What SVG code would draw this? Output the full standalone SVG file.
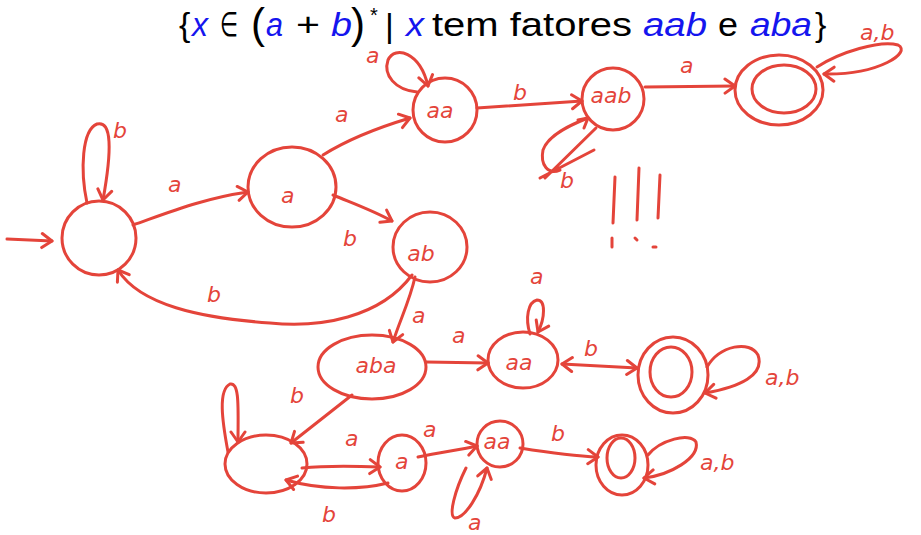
<svg xmlns="http://www.w3.org/2000/svg" width="921" height="535" viewBox="0 0 921 535">
<defs>
<style>
.s{fill:none;stroke:#e4443a;stroke-width:3;stroke-linecap:round;stroke-linejoin:round}
.a{marker-end:url(#ah)}
.l{fill:#e4443a;font-family:"DejaVu Sans",sans-serif;font-style:oblique;font-size:22px}
.t text{font-family:"Liberation Sans","DejaVu Sans",sans-serif;font-size:34px;fill:#000}
.t text.v{fill:#1515ee;font-style:italic}
</style>
<marker id="ah" viewBox="-12 -9 14 18" markerWidth="14" markerHeight="18" refX="0" refY="0" orient="auto-start-reverse" markerUnits="userSpaceOnUse"><path d="M-10,-7 L0,0 L-10,7" fill="none" stroke="#e4443a" stroke-width="3" stroke-linecap="round" stroke-linejoin="round"/></marker>
</defs>
<rect width="921" height="535" fill="#fff"/>
<g id="title" class="t">
<text x="179" y="36">{</text>
<text x="192" y="36" class="v" textLength="16" lengthAdjust="spacingAndGlyphs">x</text>
<text x="220" y="36" textLength="18" lengthAdjust="spacingAndGlyphs">∈</text>
<text x="251" y="38" style="font-size:42px">(</text>
<text x="266" y="36" class="v" textLength="17" lengthAdjust="spacingAndGlyphs">a</text>
<text x="296" y="36" textLength="24" lengthAdjust="spacingAndGlyphs">+</text>
<text x="331" y="36" class="v" textLength="21" lengthAdjust="spacingAndGlyphs">b</text>
<text x="351" y="38" style="font-size:42px">)</text>
<text x="370" y="22" style="font-size:20px">*</text>
<text x="385" y="37">|</text>
<text x="406" y="36" class="v" textLength="18" lengthAdjust="spacingAndGlyphs">x</text>
<text x="432" y="36" textLength="200" lengthAdjust="spacingAndGlyphs">tem fatores</text>
<text x="643" y="36" class="v" textLength="64" lengthAdjust="spacingAndGlyphs">aab</text>
<text x="718" y="36" textLength="20" lengthAdjust="spacingAndGlyphs">e</text>
<text x="750" y="36" class="v" textLength="62" lengthAdjust="spacingAndGlyphs">aba</text>
<text x="815" y="36">}</text>
</g>
<g id="connectors">
<path class="s a" d="M7,239 L52,241"/>
<path class="s a" d="M87,203 C80,170 82,130 97,124 C112,120 112,150 103,200"/>
<text class="l" x="113" y="138" font-size="26">b</text>
<path class="s a" d="M133,225 C170,212 205,198 248,192"/>
<text class="l" x="168" y="192">a</text>
<path class="s a" d="M323,155 C350,138 380,127 410,118"/>
<text class="l" x="335" y="122">a</text>
<path class="s a" d="M333,195 C352,203 372,210 392,221"/>
<text class="l" x="343" y="246" font-size="26">b</text>
<path class="s a" d="M412,275 C380,318 320,328 270,323 C200,318 140,305 118,270"/>
<text class="l" x="207" y="302" font-size="26">b</text>
<path class="s a" d="M417,92 C395,90 383,75 388,60 C395,45 420,52 428,86"/>
<text class="l" x="366" y="63" font-size="16">a</text>
<path class="s a" d="M477,108 C520,105 555,103 582,101"/>
<text class="l" x="513" y="100">b</text>
<path class="s" d="M596,128 L545,178 M588,118 C570,125 548,135 543,150 C540,165 548,175 560,170 M540,178 L594,150"/>
<path class="s" d="M578,120 L588,118 L584,128"/>
<text class="l" x="560" y="188">b</text>
<path class="s a" d="M645,87 L735,86"/>
<text class="l" x="680" y="73">a</text>
<path class="s a" d="M817,67 C840,52 880,40 898,45 C912,52 880,75 824,74"/>
<text class="l" x="860" y="40" font-size="24">a,b</text>
<path class="s a" d="M415,277 C410,300 400,320 393,342"/>
<text class="l" x="412" y="323" font-size="18">a</text>
<path class="s a" d="M426,362 L488,363"/>
<text class="l" x="452" y="343">a</text>
<path class="s a" d="M530,334 C525,318 528,302 537,300 C546,300 545,318 538,332"/>
<text class="l" x="530" y="284" font-size="18">a</text>
<path class="s" d="M562,364 L637,368" marker-start="url(#ah)" marker-end="url(#ah)"/>
<text class="l" x="584" y="356" font-size="40">b</text>
<path class="s a" d="M707,367 C720,345 750,340 758,355 C765,375 740,387 705,393"/>
<text class="l" x="765" y="385" font-size="24">a,b</text>
<path class="s a" d="M352,395 L291,443"/>
<text class="l" x="290" y="403" font-size="26">b</text>
<path class="s a" d="M228,452 C222,420 218,390 230,384 C240,382 238,410 238,442"/>
<path class="s a" d="M302,468 C330,465 355,466 380,467"/>
<text class="l" x="345" y="446" font-size="20">a</text>
<path class="s a" d="M388,483 C360,490 320,490 286,480"/>
<text class="l" x="322" y="522" font-size="26">b</text>
<path class="s a" d="M418,457 C440,452 460,450 477,446"/>
<text class="l" x="423" y="437">a</text>
<path class="s a" d="M466,468 C455,490 448,516 455,518 C465,518 480,495 487,468"/>
<text class="l" x="468" y="530" font-size="19">a</text>
<path class="s a" d="M520,448 C545,452 570,456 598,457"/>
<text class="l" x="551" y="441" font-size="24">b</text>
<path class="s a" d="M648,455 C660,440 690,432 696,442 C700,458 670,475 644,478"/>
<text class="l" x="700" y="470" font-size="24">a,b</text>
<path class="s" d="M615,177 L613,223 M639,168 L637,220 M660,175 L658,218 M612,238 L612,247 M635,238 L637,240 M653,247 L656,247"/>
</g>
<g id="q0"><ellipse class="s" cx="99" cy="238" rx="37" ry="37"/></g>
<g id="n_a"><ellipse class="s" cx="292" cy="187" rx="44" ry="40"/><text class="l" x="281" y="203">a</text></g>
<g id="n_aa"><ellipse class="s" cx="445" cy="110" rx="32" ry="32"/><text class="l" x="440" y="118" text-anchor="middle">aa</text></g>
<g id="n_aab"><ellipse class="s" cx="613" cy="99" rx="31" ry="31"/><text class="l" x="611" y="103" text-anchor="middle" font-size="18">aab</text></g>
<g id="f1"><ellipse class="s" cx="779" cy="90" rx="44" ry="35"/><ellipse class="s" cx="784" cy="89" rx="32" ry="24"/></g>
<g id="n_ab"><ellipse class="s" cx="430" cy="247" rx="37" ry="35"/><text class="l" x="421" y="261" text-anchor="middle">ab</text></g>
<g id="n_aba"><ellipse class="s" cx="372" cy="367" rx="54" ry="32"/><text class="l" x="376" y="373" text-anchor="middle">aba</text></g>
<g id="n_aa2"><ellipse class="s" cx="523" cy="360" rx="35" ry="28"/><text class="l" x="519" y="370" text-anchor="middle">aa</text></g>
<g id="f2"><ellipse class="s" cx="673" cy="375" rx="35" ry="38"/><ellipse class="s" cx="671" cy="372" rx="21" ry="25"/></g>
<g id="n_bl"><ellipse class="s" cx="266" cy="464" rx="41" ry="29"/></g>
<g id="n_a3"><ellipse class="s" cx="402" cy="463" rx="24" ry="28"/><text class="l" x="395" y="469">a</text></g>
<g id="n_aa3"><ellipse class="s" cx="500" cy="444" rx="23" ry="23"/><text class="l" x="497" y="449" text-anchor="middle" font-size="16">aa</text></g>
<g id="f3"><ellipse class="s" cx="622" cy="465" rx="26" ry="30"/><ellipse class="s" cx="621" cy="458" rx="14" ry="20"/></g>
</svg>
